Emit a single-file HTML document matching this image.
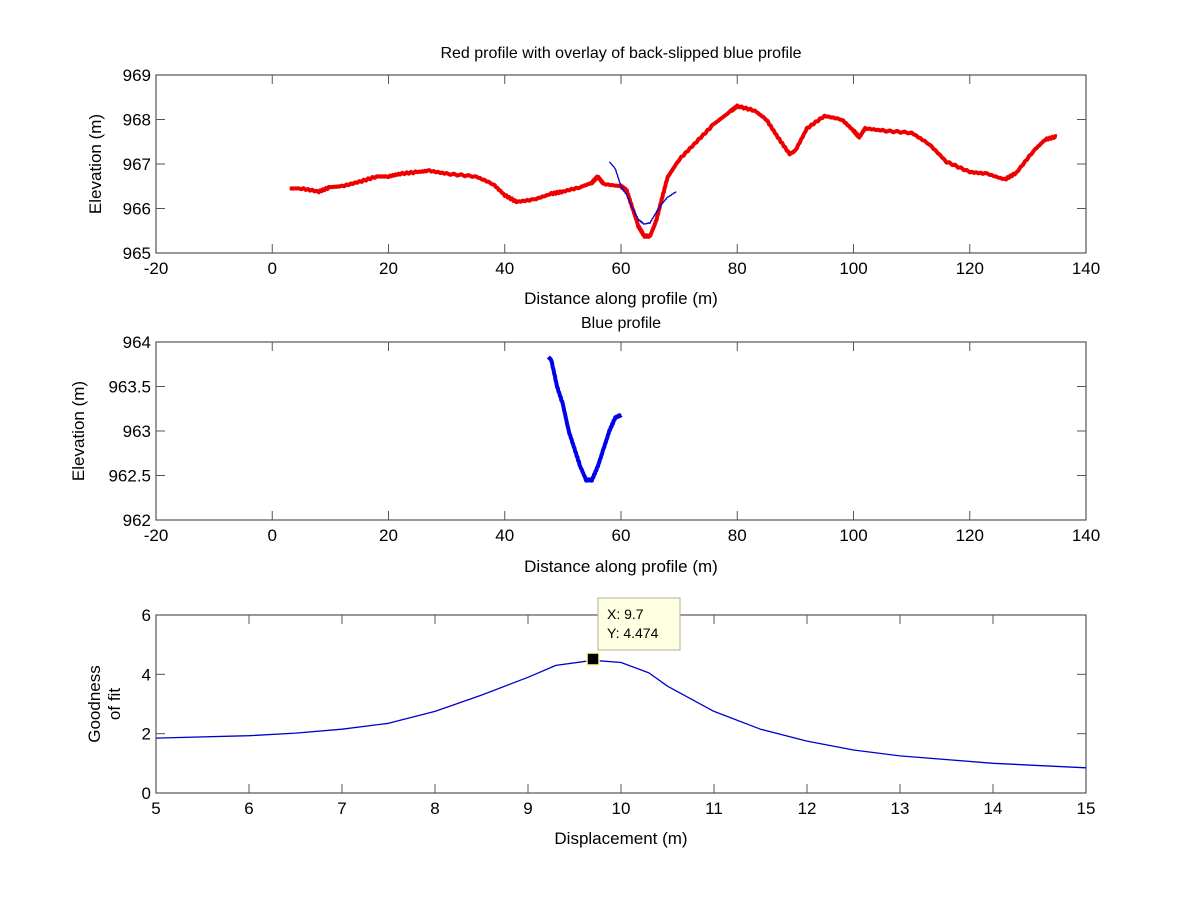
<!DOCTYPE html>
<html><head><meta charset="utf-8"><style>body{margin:0;background:#fff}svg{display:block}text{font-family:"Liberation Sans",Arial,sans-serif;fill:#000}</style></head>
<body>
<svg id="s" width="1200" height="900" xmlns="http://www.w3.org/2000/svg">
<rect width="1200" height="900" fill="#fff"/>
<g id="g"></g>
<text x="621" y="58" font-size="16" text-anchor="middle">Red profile with overlay of back-slipped blue profile</text>
<text x="621" y="304" font-size="17" text-anchor="middle">Distance along profile (m)</text>
<text x="621" y="328" font-size="16" text-anchor="middle">Blue profile</text>
<text x="621" y="572" font-size="17" text-anchor="middle">Distance along profile (m)</text>
<text x="621" y="844" font-size="17" text-anchor="middle">Displacement (m)</text>
<text transform="translate(101,164) rotate(-90)" font-size="17" text-anchor="middle">Elevation (m)</text>
<text transform="translate(84,431) rotate(-90)" font-size="17" text-anchor="middle">Elevation (m)</text>
<text transform="translate(100,704) rotate(-90)" font-size="17" text-anchor="middle">Goodness</text>
<text transform="translate(120,704) rotate(-90)" font-size="17" text-anchor="middle">of fit</text>
<rect x="598" y="598" width="82" height="52" fill="#ffffe1" stroke="#b0b0a0"/>
<text x="607" y="619" font-size="14">X: 9.7</text>
<text x="607" y="638" font-size="14">Y: 4.474</text>
</svg>
<script>
var g=document.getElementById('g'),NS="http://www.w3.org/2000/svg";
function el(t,a){var e=document.createElementNS(NS,t);for(var k in a)e.setAttribute(k,a[k]);g.appendChild(e);return e;}
function axes(L,T,R,B,xt,xmin,xmax,yt,ymin,ymax){
 el('rect',{x:L,y:T,width:R-L,height:B-T,fill:'none',stroke:'#555','stroke-width':1.2});
 xt.forEach(function(v){var x=L+(v-xmin)/(xmax-xmin)*(R-L);
  el('line',{x1:x,y1:B,x2:x,y2:B-9,stroke:'#555'});el('line',{x1:x,y1:T,x2:x,y2:T+9,stroke:'#555'});
  var t=el('text',{x:x,y:B+21,'font-size':17,'text-anchor':'middle'});t.textContent=v;});
 yt.forEach(function(v){var y=B-(v-ymin)/(ymax-ymin)*(B-T);
  el('line',{x1:L,y1:y,x2:L+9,y2:y,stroke:'#555'});el('line',{x1:R,y1:y,x2:R-9,y2:y,stroke:'#555'});
  var t=el('text',{x:L-5,y:y+6,'font-size':17,'text-anchor':'end'});t.textContent=v;});
}
function line(d,L,T,R,B,xmin,xmax,ymin,ymax,col,w,jit){
 var p=[];for(var i=0;i<d.length-1;i++){var a=d[i],b=d[i+1],n=jit?8:1;
  for(var k=0;k<n;k++){var f=k/n,x=a[0]+(b[0]-a[0])*f,y=a[1]+(b[1]-a[1])*f;
   var X=L+(x-xmin)/(xmax-xmin)*(R-L),Y=B-(y-ymin)/(ymax-ymin)*(B-T)+(jit?(Math.sin(i*7.3+k*3.1)*jit):0);p.push(X.toFixed(1)+','+Y.toFixed(1));}}
 var z=d[d.length-1];p.push((L+(z[0]-xmin)/(xmax-xmin)*(R-L)).toFixed(1)+','+(B-(z[1]-ymin)/(ymax-ymin)*(B-T)).toFixed(1));
 el('polyline',{points:p.join(' '),fill:'none',stroke:col,'stroke-width':w,'stroke-linejoin':'round'});
}
var xt=[-20,0,20,40,60,80,100,120,140];
axes(156,75,1086,253,xt,-20,140,[965,966,967,968,969],965,969);
axes(156,342,1086,520,xt,-20,140,[962,962.5,963,963.5,964],962,964);
axes(156,615,1086,793,[5,6,7,8,9,10,11,12,13,14,15],5,15,[0,2,4,6],0,6);
var red=[[3,966.45],[5,966.45],[8,966.38],[10,966.48],[12,966.5],[15,966.6],[18,966.72],[20,966.72],[22,966.78],[25,966.82],[27,966.85],[30,966.78],[35,966.72],[38,966.55],[40,966.3],[42,966.15],[45,966.2],[48,966.33],[50,966.38],[53,966.48],[55,966.58],[56,966.72],[57,966.55],[60,966.5],[61,966.4],[62,966.0],[63,965.6],[64,965.38],[65,965.38],[66,965.7],[67,966.2],[68,966.7],[70,967.1],[73,967.5],[76,967.9],[79,968.2],[80,968.3],[83,968.2],[85,968.0],[87,967.6],[89,967.22],[90,967.3],[92,967.8],[95,968.08],[98,968.0],[100,967.75],[101,967.6],[102,967.8],[105,967.75],[110,967.7],[113,967.45],[116,967.05],[120,966.82],[123,966.78],[126,966.65],[128,966.8],[131,967.3],[133,967.55],[135,967.62]];
line(red,156,75,1086,253,-20,140,965,969,'#e00',4,0.8);
line([[58,967.05],[59,966.9],[60,966.5],[61,966.3],[62,966.0],[63,965.75],[64,965.65],[65,965.68],[66,965.9],[67,966.1],[68,966.25],[69.5,966.38]],156,75,1086,253,-20,140,965,969,'#00c',1.3,0.6);
line([[47.5,963.83],[48,963.8],[49,963.5],[50,963.3],[51,963.0],[52,962.8],[53,962.6],[54,962.45],[55,962.45],[56,962.6],[57,962.8],[58,963.0],[59,963.15],[60,963.18]],156,342,1086,520,-20,140,962,964,'#00e',4,0.8);
line([[5,1.85],[6,1.93],[6.5,2.02],[7,2.15],[7.5,2.35],[8,2.75],[8.5,3.3],[9,3.9],[9.3,4.3],[9.7,4.474],[10,4.4],[10.3,4.05],[10.5,3.6],[11,2.75],[11.5,2.15],[12,1.75],[12.5,1.45],[13,1.25],[14,1.0],[15,0.85]],156,615,1086,793,5,15,0,6,'#00c',1.3,0);
el('rect',{x:587,y:653,width:12,height:12,fill:'#000',stroke:'#ffffa0','stroke-width':1.5});
</script>
</body></html>
